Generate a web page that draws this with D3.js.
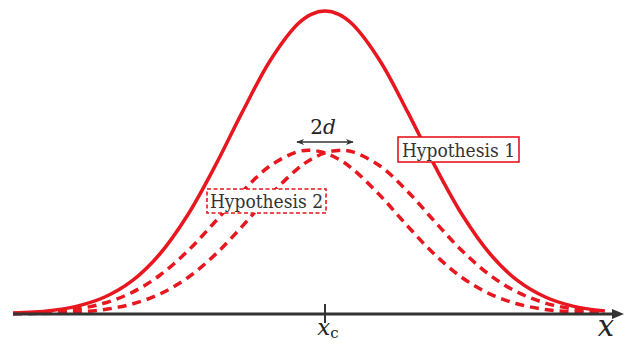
<!DOCTYPE html>
<html>
<head>
<meta charset="utf-8">
<script src="https://cdn.jsdelivr.net/npm/d3@7"></script>
<style>
  body { margin: 0; background: #fff; }
  svg { display: block; }
</style>
</head>
<body>
<svg id="chart" width="625" height="345"></svg>
<script>
// sample positions along x (units of sigma, x_c = 0)
const xs = [-3.4, -3.0, -2.7, -2.4, -2.1, -1.8, -1.5, -1.2, -0.9, -0.6, -0.3, -0.15, 0,
  0.15, 0.3, 0.6, 0.9, 1.2, 1.5, 1.8, 2.1, 2.4, 2.7, 3.05];
// solid curve (Hypothesis 1)
const hyp1 = [0.003, 0.011, 0.026, 0.056, 0.110, 0.198, 0.325, 0.487, 0.667, 0.835, 0.956, 0.989, 1,
  0.989, 0.956, 0.835, 0.667, 0.487, 0.325, 0.198, 0.110, 0.056, 0.026, 0.0096];
// dashed curves (Hypothesis 2), shifted by -d and +d
const hyp2Left = [0.0019, 0.0070, 0.0168, 0.0363, 0.0716, 0.1278, 0.2068, 0.3037, 0.4045, 0.4885, 0.5351, 0.54, 0.5316,
  0.5108, 0.479, 0.3915, 0.2901, 0.1951, 0.1189, 0.0658, 0.033, 0.015, 0.0062, 0.0019];
const hyp2Right = [0.0005, 0.0023, 0.0062, 0.015, 0.033, 0.0658, 0.1189, 0.1951, 0.2901, 0.3915, 0.479, 0.5108, 0.5316,
  0.54, 0.5351, 0.4885, 0.4045, 0.3037, 0.2068, 0.1278, 0.0716, 0.0363, 0.0168, 0.006];
const labels = ["Hypothesis 1", "Hypothesis 2"];

const red = "#e8161e";
const ink = "#333";
const serif = "'DejaVu Serif', serif";

const svg = d3.select("#chart");

const x = d3.scaleLinear().domain([-3.4, 3.4]).range([13, 637]);
const y = d3.scaleLinear().domain([0, 1]).range([314, 11]);

const line = d3.line()
  .x((d, i) => x(xs[i]))
  .y(d => y(d))
  .curve(d3.curveCatmullRom);

// dashed curves
[hyp2Left, hyp2Right].forEach(s => {
  svg.append("path")
    .attr("d", line(s))
    .attr("fill", "none")
    .attr("stroke", red)
    .attr("stroke-width", 3.5)
    .attr("stroke-dasharray", "9,6");
});

// solid curve
svg.append("path")
  .attr("d", line(hyp1))
  .attr("fill", "none")
  .attr("stroke", red)
  .attr("stroke-width", 3.5);

// axis
svg.append("line")
  .attr("x1", 13).attr("x2", 614)
  .attr("y1", y(0)).attr("y2", y(0))
  .attr("stroke", ink).attr("stroke-width", 3);
svg.append("path")
  .attr("d", `M612,${y(0) - 5}L624,${y(0)}L612,${y(0) + 5}Z`)
  .attr("fill", ink);
svg.append("line")
  .attr("x1", x(0)).attr("x2", x(0))
  .attr("y1", y(0) - 10).attr("y2", y(0) + 9)
  .attr("stroke", ink).attr("stroke-width", 2);

const xc = svg.append("text")
  .attr("x", x(0) + 3).attr("y", 335)
  .attr("text-anchor", "middle")
  .style("font-family", serif)
  .style("fill", "#222");
xc.append("tspan").style("font-style", "italic").style("font-size", "23px").text("x");
xc.append("tspan").attr("dy", 3).style("font-size", "15px").text("c");

svg.append("text")
  .attr("x", 606).attr("y", 336)
  .attr("text-anchor", "middle")
  .style("font-family", serif)
  .style("font-style", "italic")
  .style("font-size", "29px")
  .style("fill", "#222")
  .text("x");

// 2d arrow
svg.append("defs").append("marker")
  .attr("id", "ah")
  .attr("viewBox", "0 0 10 10")
  .attr("refX", 9).attr("refY", 5)
  .attr("markerWidth", 8).attr("markerHeight", 8)
  .attr("markerUnits", "userSpaceOnUse")
  .attr("orient", "auto-start-reverse")
  .append("path").attr("d", "M0,1L10,5L0,9L3,5Z").attr("fill", ink);

svg.append("line")
  .attr("x1", 297).attr("x2", 353)
  .attr("y1", 142).attr("y2", 142)
  .attr("stroke", ink).attr("stroke-width", 1.5)
  .attr("marker-start", "url(#ah)")
  .attr("marker-end", "url(#ah)");

const dl = svg.append("text")
  .attr("x", 323).attr("y", 134)
  .attr("text-anchor", "middle")
  .style("font-family", serif)
  .style("font-size", "20px")
  .style("fill", "#222");
dl.append("tspan").text("2");
dl.append("tspan").style("font-style", "italic").text("d");

// label boxes
const boxes = [
  { x: 398, y: 137, w: 121, h: 25, dash: null },
  { x: 207, y: 189, w: 119, h: 24, dash: "4,2.5" }
];
boxes.forEach((b, i) => {
  svg.append("rect")
    .attr("x", b.x).attr("y", b.y)
    .attr("width", b.w).attr("height", b.h)
    .attr("fill", "#fff")
    .attr("stroke", red)
    .attr("stroke-width", 1.6)
    .attr("stroke-dasharray", b.dash);
  svg.append("text")
    .attr("x", b.x + b.w / 2).attr("y", b.y + b.h - 5)
    .attr("text-anchor", "middle")
    .style("font-family", "'DejaVu Serif Condensed', 'DejaVu Serif', serif")
    .style("font-size", "19px")
    .style("fill", ink)
    .text(labels[i]);
});
</script>
</body>
</html>
